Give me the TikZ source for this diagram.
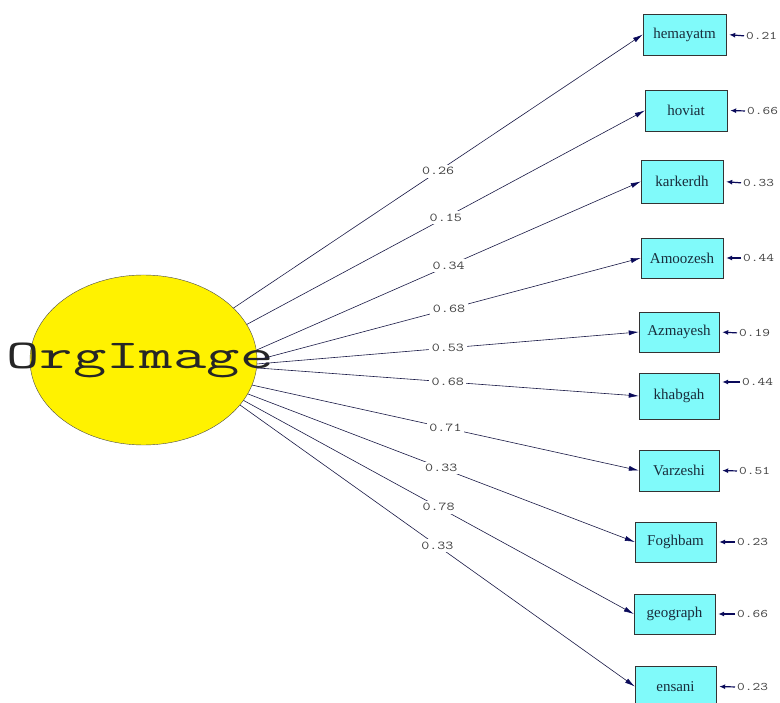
\documentclass[tikz,border=0pt]{standalone}
\usepackage{graphicx}
\usepackage{fontspec}
\setmainfont{Liberation Serif}
\usetikzlibrary{shapes.geometric,arrows.meta}
\definecolor{boxcyan}{RGB}{128,250,250}
\definecolor{linenavy}{RGB}{25,25,70}
\definecolor{headnavy}{RGB}{10,10,90}
\definecolor{labeldark}{RGB}{25,45,60}
\newcommand{\widetxt}[2][1.3]{\scalebox{#1}[1]{#2}}
\begin{document}
\begin{tikzpicture}[x=1pt,y=-1pt,
	varbox/.style={draw=black!80,fill=boxcyan,minimum width=81pt,minimum height=41pt,inner sep=0pt,
		font=\fontsize{15}{15}\selectfont,text=labeldark},
	loading/.style={draw=linenavy,line width=0.6pt,-{Latex[length=10pt,width=5pt,color=headnavy]}},
	coef/.style={fill=white,inner sep=2.5pt,font=\fontsize{12}{12}\ttfamily,text=black!75},
	errval/.style={anchor=west,inner sep=0pt,font=\fontsize{11.5}{11.5}\ttfamily,text=black!75},
	errarrow/.style={draw=headnavy,line width=1.2pt,-{Latex[length=6pt,width=5pt]},shorten >=3pt,shorten <=2pt}]
	\useasboundingbox[fill=white] (0,0) rectangle (780,703);
	% latent variable
	\node[ellipse,draw=black!70,fill=yellow,minimum width=227pt,minimum height=170pt,inner sep=0pt] (org) at (143.5,360) {};
	\node[inner sep=0pt,font=\fontsize{41}{41}\ttfamily,text=black!85] (orgtxt) at (140,360) {\widetxt[1.58]{OrgImage}};
	% observed variables
	\node[varbox,minimum width=83pt] (hem) at (684.5,34.5) {hemayatm};
	\node[varbox,minimum width=82pt] (hov) at (686,110.5) {hoviat};
	\node[varbox,minimum width=82pt,minimum height=43pt] (kar) at (682,181.5) {karkerdh};
	\node[varbox,minimum width=82pt,minimum height=40pt] (amo) at (682,258) {Amoozesh};
	\node[varbox,minimum width=80pt,minimum height=40pt] (azm) at (679,332) {Azmayesh};
	\node[varbox,minimum width=80pt,minimum height=46pt] (kha) at (679,396) {khabgah};
	\node[varbox,minimum width=80pt] (var) at (679,470.5) {Varzeshi};
	\node[varbox,minimum height=40pt] (fog) at (675.5,542) {Foghbam};
	\node[varbox,minimum height=40pt] (geo) at (674.5,614) {geograph};
	\node[varbox] (ens) at (675.5,686.5) {ensani};
	% error variances
	\node[errval] (ehem) at (746,36) {\widetxt{0.21}};
	\node[errval] (ehov) at (747,111) {\widetxt{0.66}};
	\node[errval] (ekar) at (743,183) {\widetxt{0.33}};
	\node[errval] (eamo) at (743,258) {\widetxt{0.44}};
	\node[errval] (eazm) at (739,333) {\widetxt{0.19}};
	\node[errval] (ekha) at (742,382) {\widetxt{0.44}};
	\node[errval] (evar) at (739,471) {\widetxt{0.51}};
	\node[errval] (efog) at (737,542) {\widetxt{0.23}};
	\node[errval] (egeo) at (737,614) {\widetxt{0.66}};
	\node[errval] (eens) at (737,687) {\widetxt{0.23}};
	\draw[errarrow] (ehem.west) -- (hem.east);
	\draw[errarrow] (ehov.west) -- (hov.east);
	\draw[errarrow] (ekar.west) -- (kar.east);
	\draw[errarrow] (eamo.west) -- (amo.east);
	\draw[errarrow] (eazm.west) -- (azm.east);
	\draw[errarrow] (ekha.west) -- (ekha.west -| kha.east);
	\draw[errarrow] (evar.west) -- (var.east);
	\draw[errarrow] (efog.west) -- (fog.east);
	\draw[errarrow] (egeo.west) -- (geo.east);
	\draw[errarrow] (eens.west) -- (ens.east);
	% loadings
	\draw[loading] (org.30) -- node[coef] {\widetxt{0.26}} (hem.west);
	\draw[loading] (org.19) -- node[coef] {\widetxt{0.15}} (hov.west);
	\draw[loading] (org.5) -- node[coef] {\widetxt{0.34}} (kar.west);
	\draw[loading] (org.0) -- node[coef] {\widetxt{0.68}} (amo.west);
	\draw[loading] (org.-2) -- node[coef] {\widetxt{0.53}} (azm.west);
	\draw[loading] (org.-4) -- node[coef] {\widetxt{0.68}} (kha.west);
	\draw[loading] (org.-13) -- node[coef] {\widetxt{0.71}} (var.west);
	\draw[loading] (org.-18) -- node[coef] {\widetxt{0.33}} (fog.west);
	\draw[loading] (org.-22) -- node[coef] {\widetxt{0.78}} (geo.west);
	\draw[loading] (org.-25) -- node[coef] {\widetxt{0.33}} (ens.west);
\end{tikzpicture}
\end{document}
